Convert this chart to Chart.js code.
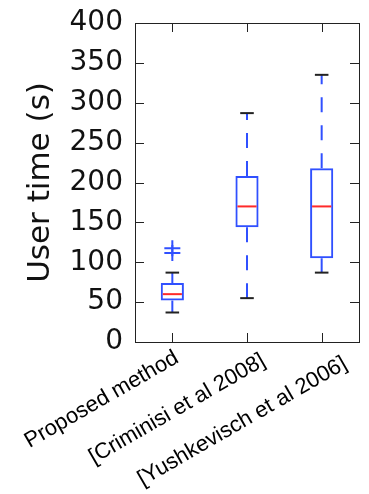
<!DOCTYPE html>
<html>
<head>
<meta charset="utf-8">
<script src="https://cdn.jsdelivr.net/npm/chart.js@4.4.1/dist/chart.umd.min.js"></script>
<style>
  html, body { margin: 0; padding: 0; background: #fff; }
  #wrap { width: 369px; height: 494px; }
</style>
</head>
<body>
<div id="wrap"><canvas id="myChart" width="369" height="494"></canvas></div>
<script>
'use strict';

// box plot statistics (seconds)
const methods = ['Proposed method', '[Criminisi et al 2008]', '[Yushkevisch et al 2006]'];
const whiskerLow = [37, 55, 87];
const q1 = [52, 144, 105];
const median = [60, 170, 170];
const q3 = [74, 208, 218];
const whiskerHigh = [87, 287, 335];
const outliers = [[117.5, 111.5], [], []];
const yTicks = [0, 50, 100, 150, 200, 250, 300, 350, 400];

const BLUE = '#3050ff';
const RED = '#ff2a2a';
const DARK = '#222';

// whiskers, caps, medians, frame and inward ticks (matplotlib look)
const boxPlotPlugin = {
    id: 'boxPlot',
    afterDatasetsDraw(chart) {
        const ctx = chart.ctx;
        const y = chart.scales.y;
        const bars = chart.getDatasetMeta(0).data;
        ctx.save();
        bars.forEach(function(bar, i) {
            const cx = bar.x;
            const half = bar.width / 2;
            // whiskers
            ctx.strokeStyle = BLUE;
            ctx.lineWidth = 2;
            ctx.setLineDash([15, 13]);
            ctx.beginPath();
            ctx.moveTo(cx, y.getPixelForValue(q3[i]));
            ctx.lineTo(cx, y.getPixelForValue(whiskerHigh[i]));
            ctx.stroke();
            ctx.beginPath();
            ctx.moveTo(cx, y.getPixelForValue(q1[i]));
            ctx.lineTo(cx, y.getPixelForValue(whiskerLow[i]));
            ctx.stroke();
            ctx.setLineDash([]);
            // caps
            ctx.strokeStyle = DARK;
            [whiskerLow[i], whiskerHigh[i]].forEach(function(v) {
                const py = y.getPixelForValue(v);
                ctx.beginPath();
                ctx.moveTo(cx - half / 2 - 1, py);
                ctx.lineTo(cx + half / 2 + 1, py);
                ctx.stroke();
            });
            // median
            ctx.strokeStyle = RED;
            const my = y.getPixelForValue(median[i]);
            ctx.beginPath();
            ctx.moveTo(cx - half + 2, my);
            ctx.lineTo(cx + half - 2, my);
            ctx.stroke();
        });
        ctx.restore();
    },
    afterDraw(chart) {
        const ctx = chart.ctx;
        const a = chart.chartArea;
        const x = chart.scales.x;
        const y = chart.scales.y;
        const len = 9;
        ctx.save();
        ctx.strokeStyle = DARK;
        ctx.lineWidth = 1;
        ctx.strokeRect(Math.round(a.left) + 0.5, Math.round(a.top) + 0.5,
            Math.round(a.right - a.left), Math.round(a.bottom - a.top));
        ctx.beginPath();
        yTicks.forEach(function(v) {
            const py = Math.round(y.getPixelForValue(v)) + 0.5;
            ctx.moveTo(a.left, py); ctx.lineTo(a.left + len, py);
            ctx.moveTo(a.right, py); ctx.lineTo(a.right - len, py);
        });
        methods.forEach(function(m, i) {
            const px = Math.round(x.getPixelForValue(i)) + 0.5;
            ctx.moveTo(px, a.bottom); ctx.lineTo(px, a.bottom - len);
            ctx.moveTo(px, a.top); ctx.lineTo(px, a.top + len);
        });
        ctx.stroke();

        // rotated category labels, ends a little right of each tick like the original
        const shift = [-2, 10, 17];
        const drop = [0, 3, 6];
        ctx.fillStyle = '#000';
        ctx.font = '22px "Liberation Sans"';
        ctx.textAlign = 'right';
        ctx.textBaseline = 'middle';
        methods.forEach(function(m, i) {
            ctx.save();
            ctx.translate(x.getPixelForValue(i) + shift[i], a.bottom + 3 + drop[i]);
            ctx.rotate(-Math.PI / 6);
            ctx.fillText(m, 0, 13);
            ctx.restore();
        });
        ctx.restore();
    }
};

const ctx = document.getElementById('myChart').getContext('2d');
const myChart = new Chart(ctx, {
    type: 'bar',
    data: {
        labels: methods,
        datasets: [{
            label: 'IQR',
            data: q1.map(function(v, i) { return [v, q3[i]]; }),
            backgroundColor: 'rgba(0,0,0,0)',
            borderColor: BLUE,
            borderWidth: 2,
            borderSkipped: false,
            categoryPercentage: 1,
            barPercentage: 0.31
        }, {
            type: 'line',
            label: 'Outliers',
            data: outliers.flatMap(function(list, i) {
                return list.map(function(v) { return { x: methods[i], y: v }; });
            }),
            showLine: false,
            pointStyle: 'cross',
            pointRadius: 8,
            pointBorderWidth: 2,
            pointBorderColor: BLUE,
            borderColor: BLUE
        }]
    },
    options: {
        responsive: false,
        animation: false,
        layout: { padding: { top: 23, right: 10, left: 0, bottom: 0 } },
        plugins: {
            legend: { display: false },
            tooltip: { enabled: false }
        },
        scales: {
            x: {
                grid: { display: false, drawTicks: false },
                border: { display: false },
                ticks: { display: false },
                afterFit: function(scale) { scale.height = 152; }
            },
            y: {
                min: 0,
                max: 400,
                grid: { display: false, drawTicks: false },
                border: { display: false },
                ticks: {
                    stepSize: 50,
                    padding: 12,
                    color: '#111',
                    font: { family: 'DejaVu Sans', size: 28 }
                },
                title: {
                    display: true,
                    text: 'User time (s)',
                    color: '#111',
                    padding: { top: 22, bottom: 0 },
                    font: { family: 'DejaVu Sans', size: 31 }
                },
                afterFit: function(scale) {
                    scale.width = 135;
                    scale.paddingTop = 0;
                    scale.paddingBottom = 0;
                }
            }
        }
    },
    plugins: [boxPlotPlugin]
});
</script>
</body>
</html>
